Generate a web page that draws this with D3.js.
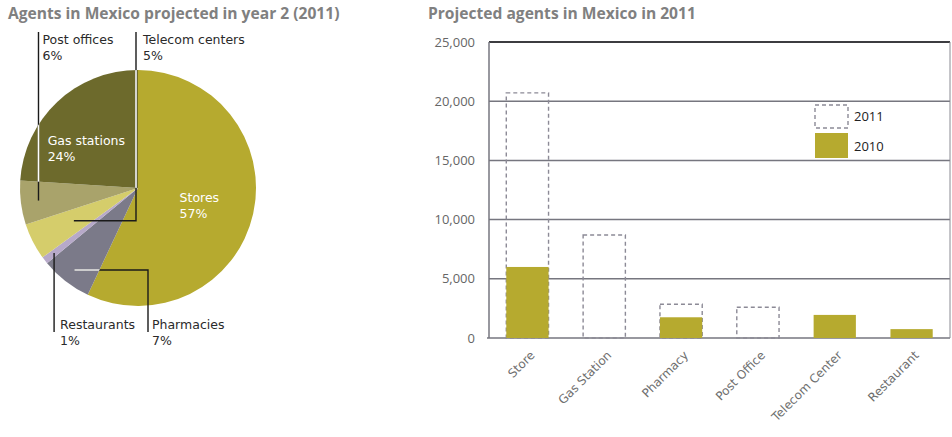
<!DOCTYPE html>
<html>
<head>
<meta charset="utf-8">
<script src="https://cdn.jsdelivr.net/npm/d3@7"></script>
<style>
  html, body { margin: 0; padding: 0; background: #ffffff; }
  svg { display: block; }
</style>
</head>
<body>
<svg id="chart" width="952" height="437"></svg>
<script>
// ---- Pie: share of projected agents by type (2011) ----
const pieLabels = ["Stores", "Pharmacies", "Restaurants", "Telecom centers", "Post offices", "Gas stations"];
const pieShares = [57, 7, 1, 5, 6, 24];

// ---- Bars: projected agents by type ----
const categories = ["Store", "Gas Station", "Pharmacy", "Post Office", "Telecom Center", "Restaurant"];
const agents2010 = [6000, 0, 1750, 0, 1950, 750];
const agents2011 = [20700, 8700, 2850, 2600, null, null];
const yTicks = [0, 5000, 10000, 15000, 20000, 25000];
const seriesNames = ["2011", "2010"];

const svg = d3.select("#chart");
const titleFont = "'Open Sans', 'Liberation Sans', sans-serif";
const labelFont = "'DejaVu Sans', Verdana, sans-serif";

// ---------------- Pie ----------------
const pieColors = ["#b6aa2f", "#7b7a89", "#b7a9c9", "#d5cd6b", "#a9a36b", "#6d6a2c"];
const cx = 138, cy = 188, r = 118;

svg.append("text")
  .attr("x", 8).attr("y", 19)
  .attr("font-family", titleFont).attr("font-weight", 700).attr("font-size", 15.6)
  .attr("fill", "#808080")
  .text("Agents in Mexico projected in year 2 (2011)");

const pie = d3.pie().sort(null).value(d => d)(pieShares);
const arc = d3.arc().innerRadius(0).outerRadius(r);
const pieG = svg.append("g").attr("transform", `translate(${cx},${cy})`);
pieG.selectAll("path").data(pie).join("path")
  .attr("d", arc)
  .attr("fill", (d, i) => pieColors[i]);

const mid = d => (d.startAngle + d.endAngle) / 2;
const polar = (a, rr) => [Math.sin(a) * rr, -Math.cos(a) * rr];

// labels drawn inside the pie (white)
const inside = { 0: [-16, 1], 5: [-50, 0] };
Object.keys(inside).forEach(k => {
  const i = +k, c = arc.centroid(pie[i]);
  const t = pieG.append("text")
    .attr("x", c[0] + inside[k][0]).attr("y", c[1] + inside[k][1])
    .attr("font-family", labelFont).attr("font-size", 12.5).attr("fill", "#ffffff");
  t.append("tspan").text(pieLabels[i]);
  t.append("tspan").attr("x", c[0] + inside[k][0]).attr("dy", 16).text(pieShares[i] + "%");
});

// clip shapes: a leader line shows white where it crosses a dark slice
const defs = svg.append("defs");
defs.append("clipPath").attr("id", "clipGas").append("path").attr("d", arc(pie[5]));
defs.append("clipPath").attr("id", "clipPharm").append("path").attr("d", arc(pie[1]));

// leader lines for the small slices
const topY = 32 - cy, botY = 332 - cy;
const leaders = [];
{
  // Post offices: straight down from the label into its slice
  const e = polar(mid(pie[4]), r * 0.85);
  leaders.push({ i: 4, pts: [[e[0], topY], e], clip: "clipGas", lx: e[0] + 4, ly: topY + 12 });
  // Telecom centers: down along the top radius, then left into the slice
  const t = polar(mid(pie[3]), r * 0.61);
  leaders.push({ i: 3, pts: [[-2, topY], [-2, t[1]], t], clip: "clipGas", lx: 5, ly: topY + 12 });
  // Pharmacies: from inside the slice right, then down to the label
  const p = polar(mid(pie[1]), r * 0.88);
  leaders.push({ i: 1, pts: [p, [10, p[1]], [10, botY]], clip: "clipPharm", lx: 14, ly: botY - 3 });
  // Restaurants: from the thin slice straight down
  const q = polar(mid(pie[2]), r * 0.9);
  leaders.push({ i: 2, pts: [q, [q[0], botY]], clip: null, lx: q[0] + 6, ly: botY - 3 });
}

const line = d3.line();
leaders.forEach(L => {
  pieG.append("path").attr("d", line(L.pts))
    .attr("fill", "none").attr("stroke", "#1a1a1a").attr("stroke-width", 1.4);
  if (L.clip) {
    pieG.append("path").attr("d", line(L.pts))
      .attr("clip-path", `url(#${L.clip})`)
      .attr("fill", "none").attr("stroke", "#ffffff").attr("stroke-width", 1.6);
  }
  const t = pieG.append("text")
    .attr("x", L.lx).attr("y", L.ly)
    .attr("font-family", labelFont).attr("font-size", 12.5).attr("fill", "#2a2a2a");
  t.append("tspan").text(pieLabels[L.i]);
  t.append("tspan").attr("x", L.lx).attr("dy", 16).text(pieShares[L.i] + "%");
});

// ---------------- Bars ----------------
svg.append("text")
  .attr("x", 428).attr("y", 19)
  .attr("font-family", titleFont).attr("font-weight", 700).attr("font-size", 15.6)
  .attr("fill", "#808080")
  .text("Projected agents in Mexico in 2011");

const plotLeft = 489, plotRight = 950, plotTop = 42, plotBottom = 338;
const x = d3.scaleBand().domain(categories).range([plotLeft, plotRight])
  .paddingInner(0.45).paddingOuter(0.225);
const y = d3.scaleLinear().domain([0, 25000]).range([plotBottom, plotTop]);

const gridG = svg.append("g");
gridG.selectAll("line").data(yTicks).join("line")
  .attr("x1", d => d === 0 ? plotLeft - 2 : plotLeft).attr("x2", plotRight)
  .attr("y1", d => y(d)).attr("y2", d => y(d))
  .attr("stroke", d => d === 25000 ? "#3c3c40" : "#76767f")
  .attr("stroke-width", d => d === 25000 ? 1.8 : 1.5);
gridG.append("line").attr("x1", plotLeft).attr("x2", plotLeft).attr("y1", plotTop).attr("y2", plotBottom)
  .attr("stroke", "#76767f").attr("stroke-width", 1.5);
gridG.append("line").attr("x1", plotRight).attr("x2", plotRight).attr("y1", plotTop).attr("y2", plotBottom)
  .attr("stroke", "#8a8a92").attr("stroke-width", 1);

const yAxis = d3.axisLeft(y).tickValues(yTicks).tickSize(0).tickPadding(14)
  .tickFormat(d3.format(","));
const yG = svg.append("g").attr("transform", `translate(${plotLeft},0)`).call(yAxis);
yG.select(".domain").remove();
yG.selectAll("text")
  .attr("font-family", titleFont).attr("font-size", 13).attr("fill", "#666666");

const dashStyle = sel => sel.attr("fill", "none").attr("stroke", "#8c8a96")
  .attr("stroke-width", 1.4).attr("stroke-dasharray", "4,3");

// 2011 projection (dashed outline)
svg.append("g").selectAll("rect")
  .data(categories.map((c, i) => ({ c, v: agents2011[i] })).filter(d => d.v != null))
  .join("rect")
  .attr("x", d => x(d.c)).attr("width", x.bandwidth())
  .attr("y", d => y(d.v)).attr("height", d => y(0) - y(d.v))
  .call(dashStyle);

// 2010 actual (solid)
svg.append("g").selectAll("rect")
  .data(categories.map((c, i) => ({ c, v: agents2010[i] })).filter(d => d.v > 0))
  .join("rect")
  .attr("x", d => x(d.c)).attr("width", x.bandwidth())
  .attr("y", d => y(d.v)).attr("height", d => y(0) - y(d.v))
  .attr("fill", "#b6aa2f");

// category labels
svg.append("g").selectAll("text").data(categories).join("text")
  .attr("transform", d => `translate(${x(d) + x.bandwidth() / 2 + 8},${plotBottom + 18}) rotate(-45)`)
  .attr("text-anchor", "end")
  .attr("font-family", labelFont).attr("font-size", 12).attr("fill", "#6e6e6e")
  .text(d => d);

// legend
const lg = svg.append("g").attr("transform", "translate(815,105)");
lg.append("rect").attr("x", 0).attr("y", 0).attr("width", 33).attr("height", 23).call(dashStyle);
lg.append("rect").attr("x", 0).attr("y", 28).attr("width", 33).attr("height", 25).attr("fill", "#b6aa2f");
lg.selectAll("text.lab").data(seriesNames).join("text")
  .attr("x", 39).attr("y", (d, i) => i === 0 ? 16 : 46)
  .attr("font-family", titleFont).attr("font-size", 13).attr("fill", "#222222")
  .text(d => d);
</script>
</body>
</html>
